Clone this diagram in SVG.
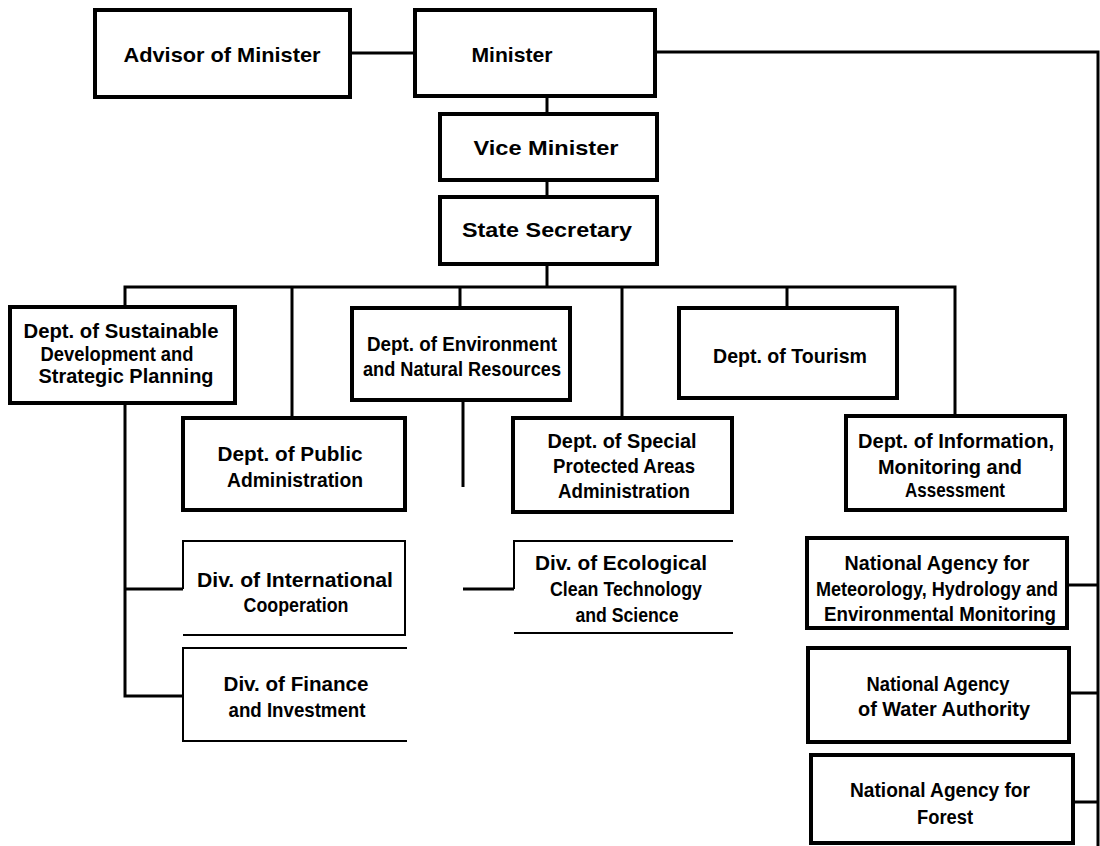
<svg xmlns="http://www.w3.org/2000/svg" width="1100" height="846" viewBox="0 0 1100 846">
<style>
.box{fill:#fff;stroke:#000;stroke-width:4}
.div{fill:none;stroke:#000;stroke-width:2}
.con{fill:none;stroke:#000;stroke-width:3}
text{font-family:"Liberation Sans",Arial,sans-serif;font-weight:bold;font-size:21px;fill:#000;text-anchor:middle}
</style>
<rect width="1100" height="846" fill="#fff"/>
<g id="connectors">
<path class="con" d="M350,53 H415"/>
<path class="con" d="M655,52 H1098 V846"/>
<path class="con" d="M547,96 V114"/>
<path class="con" d="M547,180 V197"/>
<path class="con" d="M547,264 V287"/>
<path class="con" d="M125,307 V287 H955 V417"/>
<path class="con" d="M292,287 V418"/>
<path class="con" d="M460,287 V308"/>
<path class="con" d="M622,287 V418"/>
<path class="con" d="M787,287 V308"/>
<path class="con" d="M125,403 V696 H183"/>
<path class="con" d="M125,589 H183"/>
<path class="con" d="M463,400 V487"/>
<path class="con" d="M463,589 H514"/>
<path class="con" d="M1067,585 H1098"/>
<path class="con" d="M1069,693 H1098"/>
<path class="con" d="M1073,802 H1098"/>
</g>
<g id="advisor"><rect class="box" x="95" y="10" width="255" height="87"/><text x="222" y="62" textLength="197" lengthAdjust="spacingAndGlyphs">Advisor of Minister</text></g>
<g id="minister"><rect class="box" x="415" y="10" width="240" height="86"/><text x="512" y="62" textLength="81" lengthAdjust="spacingAndGlyphs">Minister</text></g>
<g id="vice-minister"><rect class="box" x="440" y="114" width="217" height="66"/><text x="546" y="155" textLength="145" lengthAdjust="spacingAndGlyphs">Vice Minister</text></g>
<g id="state-secretary"><rect class="box" x="440" y="197" width="217" height="67"/><text x="547" y="237" textLength="170" lengthAdjust="spacingAndGlyphs">State Secretary</text></g>
<g id="dept-sustainable"><rect class="box" x="10" y="307" width="225" height="96"/>
<text x="121" y="338" textLength="195" lengthAdjust="spacingAndGlyphs">Dept. of Sustainable</text>
<text x="117" y="361" textLength="153" lengthAdjust="spacingAndGlyphs">Development and</text>
<text x="126" y="383" textLength="175" lengthAdjust="spacingAndGlyphs">Strategic Planning</text></g>
<g id="dept-environment"><rect class="box" x="352" y="308" width="218" height="92"/>
<text x="462" y="351" textLength="190" lengthAdjust="spacingAndGlyphs">Dept. of Environment</text>
<text x="462" y="376" textLength="198" lengthAdjust="spacingAndGlyphs">and Natural Resources</text></g>
<g id="dept-tourism"><rect class="box" x="679" y="308" width="218" height="90"/>
<text x="790" y="363" textLength="154" lengthAdjust="spacingAndGlyphs">Dept. of Tourism</text></g>
<g id="dept-public"><rect class="box" x="183" y="418" width="222" height="92"/>
<text x="290" y="461" textLength="145" lengthAdjust="spacingAndGlyphs">Dept. of Public</text>
<text x="295" y="487" textLength="136" lengthAdjust="spacingAndGlyphs">Administration</text></g>
<g id="dept-special"><rect class="box" x="513" y="418" width="219" height="94"/>
<text x="622" y="448" textLength="149" lengthAdjust="spacingAndGlyphs">Dept. of Special</text>
<text x="624" y="473" textLength="142" lengthAdjust="spacingAndGlyphs">Protected Areas</text>
<text x="624" y="498" textLength="132" lengthAdjust="spacingAndGlyphs">Administration</text></g>
<g id="dept-information"><rect class="box" x="846" y="416" width="219" height="94"/>
<text x="956" y="448" textLength="196" lengthAdjust="spacingAndGlyphs">Dept. of Information,</text>
<text x="950" y="474" textLength="144" lengthAdjust="spacingAndGlyphs">Monitoring and</text>
<text x="955" y="497" textLength="100" lengthAdjust="spacingAndGlyphs">Assessment</text></g>
<g id="div-international"><path class="div" d="M183,589 V541 H405 V635 H183"/>
<text x="295" y="587" textLength="196" lengthAdjust="spacingAndGlyphs">Div. of International</text>
<text x="296" y="612" textLength="105" lengthAdjust="spacingAndGlyphs">Cooperation</text></g>
<g id="div-finance"><path class="div" d="M407,648 H183 V741 H407"/>
<text x="296" y="691" textLength="145" lengthAdjust="spacingAndGlyphs">Div. of Finance</text>
<text x="297" y="717" textLength="137" lengthAdjust="spacingAndGlyphs">and Investment</text></g>
<g id="div-ecological"><path class="div" d="M733,541 H514 V589 M514,633 H733"/>
<text x="621" y="570" textLength="172" lengthAdjust="spacingAndGlyphs">Div. of Ecological</text>
<text x="626" y="596" textLength="152" lengthAdjust="spacingAndGlyphs">Clean Technology</text>
<text x="627" y="622" textLength="103" lengthAdjust="spacingAndGlyphs">and Science</text></g>
<g id="agency-meteorology"><rect class="box" x="807" y="538" width="260" height="90"/>
<text x="937" y="570" textLength="185" lengthAdjust="spacingAndGlyphs">National Agency for</text>
<text x="937" y="596" textLength="242" lengthAdjust="spacingAndGlyphs">Meteorology, Hydrology and</text>
<text x="940" y="621" textLength="232" lengthAdjust="spacingAndGlyphs">Environmental Monitoring</text></g>
<g id="agency-water"><rect class="box" x="808" y="648" width="261" height="94"/>
<text x="938" y="691" textLength="143" lengthAdjust="spacingAndGlyphs">National Agency</text>
<text x="944" y="716" textLength="172" lengthAdjust="spacingAndGlyphs">of Water Authority</text></g>
<g id="agency-forest"><rect class="box" x="811" y="755" width="262" height="88"/>
<text x="940" y="797" textLength="180" lengthAdjust="spacingAndGlyphs">National Agency for</text>
<text x="945" y="824" textLength="56" lengthAdjust="spacingAndGlyphs">Forest</text></g>
</svg>
